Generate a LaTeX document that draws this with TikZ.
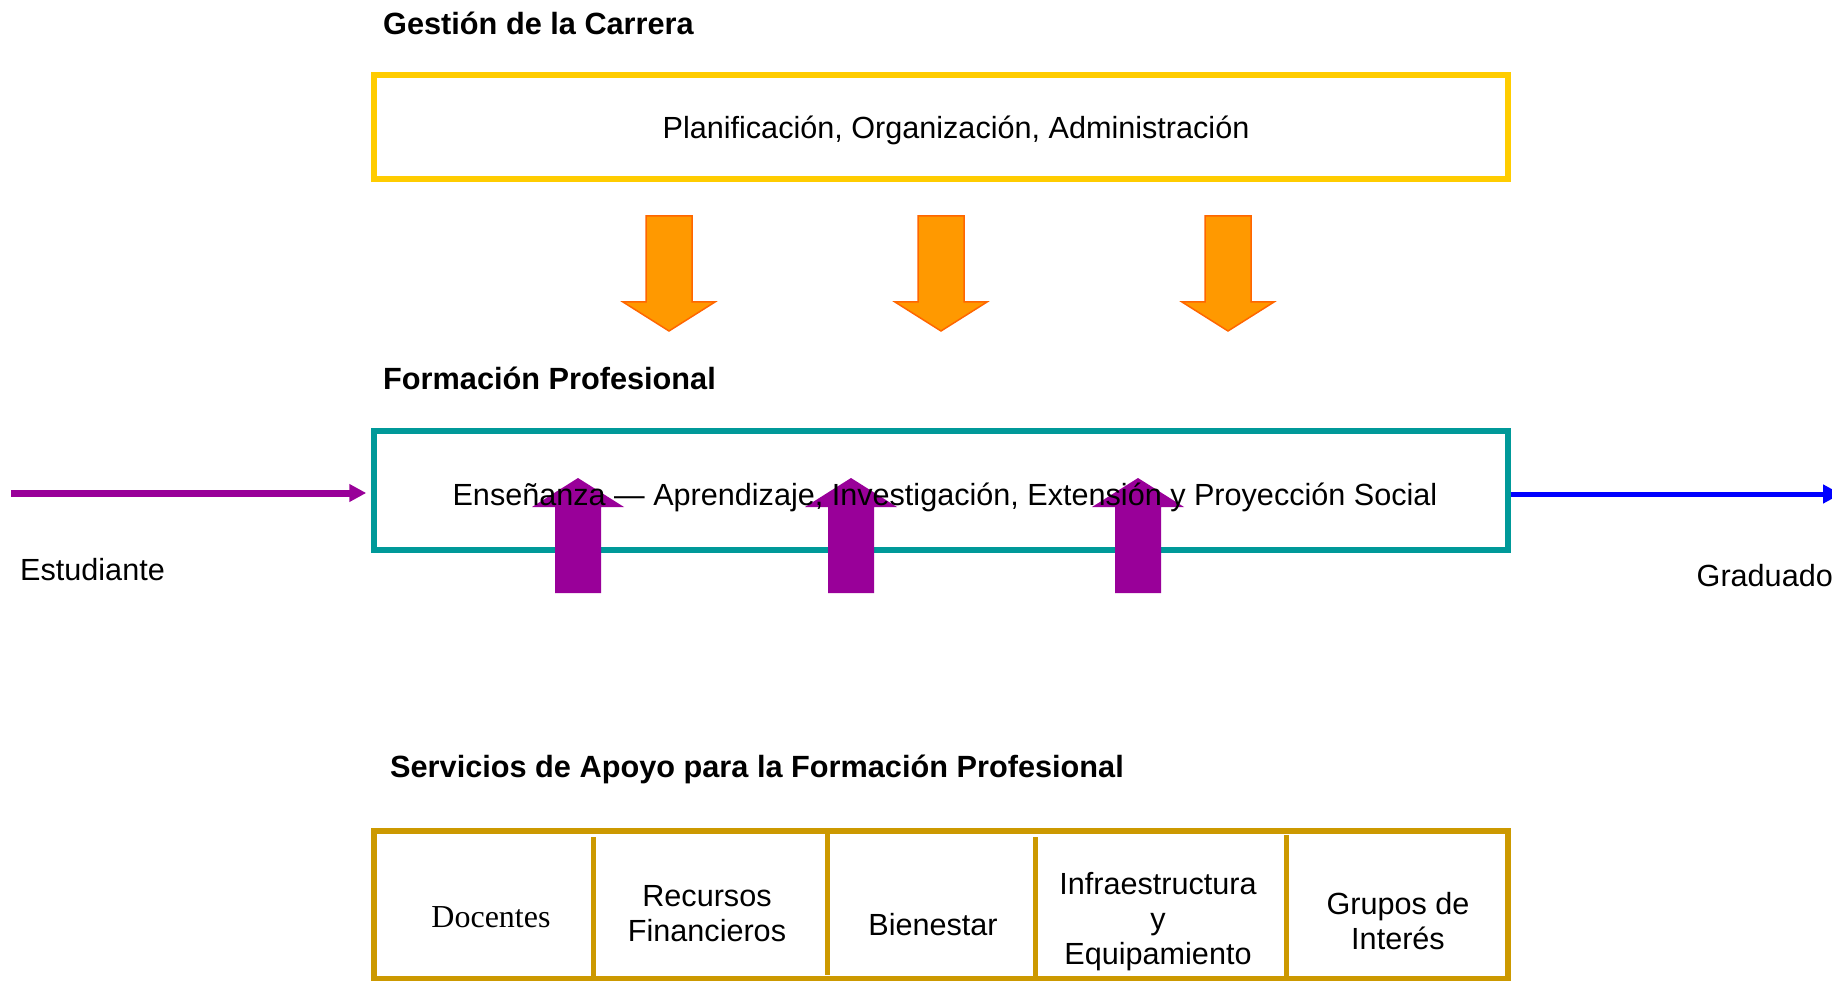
\documentclass[tikz,border=0pt]{standalone}
\usepackage{fontspec}
\setmainfont{Liberation Sans}
\newfontfamily\timesfont{Liberation Serif}
\usetikzlibrary{arrows.meta}
\definecolor{cYellow}{HTML}{FFCC00}
\definecolor{cOrange}{HTML}{FF9900}
\definecolor{cOrangeEdge}{HTML}{FF6600}
\definecolor{cTeal}{HTML}{009999}
\definecolor{cPurple}{HTML}{990099}
\definecolor{cBlue}{HTML}{0000FF}
\definecolor{cGold}{HTML}{CC9900}
\tikzset{
  txt/.style={font=\fontsize{30.6}{35}\selectfont, inner sep=0pt},
  ttl/.style={font=\fontsize{30.7}{35}\selectfont\bfseries, inner sep=0pt, anchor=base west},
  framebox/.style={draw, inner sep=0pt, minimum width=1134pt},
  downarrow/.style={fill=cOrange, draw=cOrangeEdge, line width=1.5pt, line join=miter},
  uparrow/.style={fill=cPurple, draw=none},
  divider/.style={draw=cGold, line width=5pt},
  flowline/.style={line width=7pt},
}
\begin{document}
\begin{tikzpicture}[x=1pt,y=-1pt]
\useasboundingbox (0,0) rectangle (1832,981);
% titles
\node[ttl] (t1) at (383,35) {Gestión de la Carrera};
\node[ttl] (t2) at (383,390) {Formación Profesional};
\node[ttl] (t3) at (390,777) {Servicios de Apoyo para la Formación Profesional};
% top box
\node[framebox, draw=cYellow, line width=6pt, minimum height=104pt] (gest) at (941,127) {};
\node[txt, anchor=base] (gestT) at (956,139) {Planificación, Organización, Administración};
% orange arrows
\foreach \cx in {669,941,1228}{
  \draw[downarrow] (\cx-23,216) -- (\cx+23,216) -- (\cx+23,302) -- (\cx+46,302) -- (\cx,331) -- (\cx-46,302) -- (\cx-23,302) -- cycle;
}
% middle box
\node[framebox, draw=cTeal, line width=5.5pt, minimum height=119pt] (form) at (941,490.5) {};
% purple up arrows
\foreach \cx in {578,851,1138}{
  \fill[uparrow] (\cx-23,593) -- (\cx+23,593) -- (\cx+23,507) -- (\cx+46,507) -- (\cx,478) -- (\cx-46,507) -- (\cx-23,507) -- cycle;
}
\node[txt, anchor=base] (formT) at (945,505.7) {Enseñanza — Aprendizaje, Investigación, Extensión y Proyección Social};
% input / output
\coordinate (sIn) at (11,493);
\draw[flowline, draw=cPurple, -{Triangle[length=17pt,width=17pt]}, shorten >=5pt] (sIn) -- (sIn -| form.west);
\node[txt, anchor=base west] (est) at (20,580) {Estudiante};
\coordinate (gOut) at (1841,494);
\draw[line width=5pt, draw=cBlue, -{Triangle[length=18pt,width=18pt]}] (form.east |- gOut) -- (gOut);
\node[txt, anchor=base east] (grad) at (1833,586) {Graduado};
% bottom box
\node[framebox, draw=cGold, line width=6pt, minimum height=148pt] (serv) at (941,905) {};
\draw[divider] (593,837) -- (593,981);
\draw[divider] (827,834) -- (827,975);
\draw[divider] (1035,837) -- (1035,981);
\draw[divider] (1286,835) -- (1286,981);
\node[txt, anchor=base, font=\fontsize{32}{35}\timesfont] (doc) at (491,927) {Docentes};
\node[txt, align=center] (rec) at (707,914) {Recursos\\Financieros};
\node[txt, anchor=base] (bien) at (933,935) {Bienestar};
\node[txt, align=center] (inf) at (1158,921.5) {Infraestructura\\y\\Equipamiento};
\node[txt, align=center] (gru) at (1398,921) {Grupos de\\Interés};
\end{tikzpicture}
\end{document}
